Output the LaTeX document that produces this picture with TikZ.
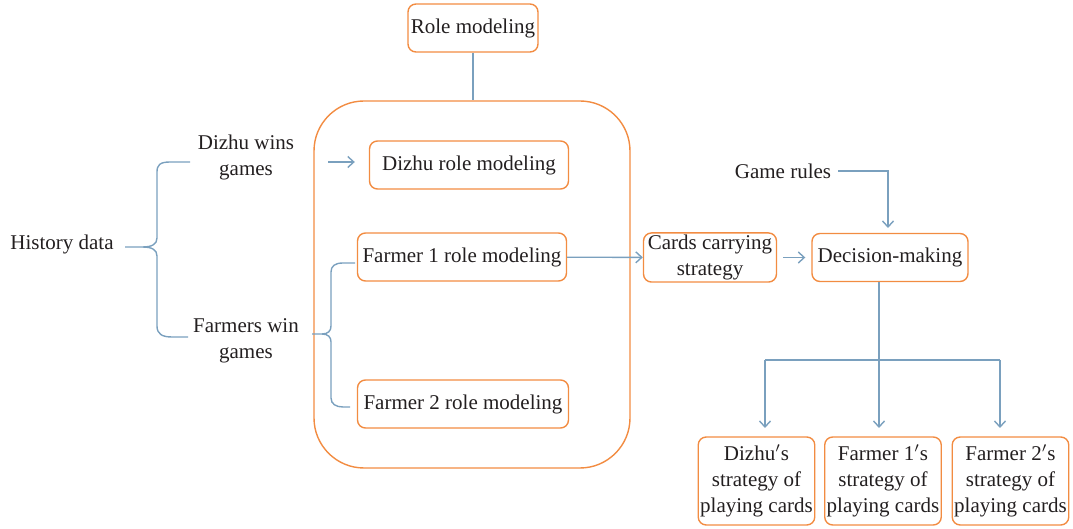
\documentclass[tikz,border=0pt]{standalone}
\usepackage{fontspec}
\setmainfont{Liberation Serif}
\usepackage{xcolor}
\usepackage{tikz}
\usetikzlibrary{shapes,arrows,arrows.meta,positioning,calc}

\definecolor{boxorange}{RGB}{242,140,66}
\definecolor{linkblue}{RGB}{122,160,190}
\definecolor{inkgray}{RGB}{35,31,32}

\begin{document}
\begin{tikzpicture}[
            x=0.5pt, y=-0.5pt,
            every node/.style={font=\fontsize{10.5}{13}\selectfont, text=inkgray, align=center},
            box/.style={draw=boxorange, line width=0.7pt, rounded corners=4pt, minimum height=24pt, inner sep=1pt},
            group/.style={draw=boxorange, line width=0.7pt, rounded corners=25pt},
            link/.style={draw=linkblue, line width=0.7pt},
            >={Straight Barb[length=3pt,width=5.5pt]},
        ]
            \useasboundingbox (0,0) rectangle (1073,529);

            % role modeling block
            \node[box, minimum width=65pt] (role) at (473,28) {Role modeling};
            \node[group, minimum width=158pt, minimum height=183.5pt] (roles) at (472,284.5) {};
            \node[box, minimum width=99.5pt] (dizhu) at (469,165) {Dizhu role modeling};
            \node[box, minimum width=104.5pt] (farmer1) at (462,257) {Farmer 1 role modeling};
            \node[box, minimum width=105.5pt] (farmer2) at (463,404) {Farmer 2 role modeling};
            \draw[link] (role) -- (role |- roles.north);

            % data side
            \node (history) at (62,244) {History data};
            \node (dwins) at (246,157) {Dizhu wins\\games};
            \node (fwins) at (246,341) {Farmers win\\games};
            \coordinate (hdtip) at (125,247);
            \draw[link] (hdtip) -- (143,247) .. controls (152,247) and (157,244) .. (157,238) -- (157,172)
                .. controls (157,165) and (160,162) .. (170,162) -- (190,162);
            \draw[link] (143,247) .. controls (152,247) and (157,250) .. (157,256) -- (157,326)
                .. controls (157,334) and (162,337) .. (172,337) -- (188,337);
            \draw[link] (312,334) -- (322,334) .. controls (328,334) and (331,331) .. (331,326) -- (331,272)
                .. controls (331,266) and (335,263) .. (343,263) -- (355,263);
            \draw[link] (322,334) .. controls (328,334) and (331,337) .. (331,342) -- (331,398)
                .. controls (331,404) and (336,407) .. (343,407) -- (350,407);
            \coordinate (dzin) at (328,162);
            \draw[link,->] (dzin) -- (dzin -| dizhu.west) [shorten >=7pt];

            % decision side
            \node[box, minimum width=66.5pt] (cards) at (710,257.5) {Cards carrying\\strategy};
            \node[box, minimum width=78pt] (decision) at (890,257.5) {Decision-making};
            \node (rules) at (783,171) {Game rules};
            \draw[link,->] (farmer1) -- (cards);
            \draw[link,->,shorten <=3pt,shorten >=3pt] (cards) -- (decision);
            \coordinate (ruledrop) at (888,233);
            \draw[link,->,shorten >=2.5pt] (rules.east) -| (ruledrop);

            % strategies
            \node[box, minimum width=57.5pt, minimum height=44pt] (dzstrat) at (756.5,481) {Dizhu$'$s\\strategy of\\playing cards};
            \node[box, minimum width=57.5pt, minimum height=44pt] (f1strat) at (883,481) {Farmer 1$'$s\\strategy of\\playing cards};
            \node[box, minimum width=57.5pt, minimum height=44pt] (f2strat) at (1010.5,481) {Farmer 2$'$s\\strategy of\\playing cards};
            \coordinate (split) at (879,360);
            \draw[link] (decision.south -| split) -- (split);
            \draw[link] (765,360) -- (1000,360);
            \foreach \b/\x in {dzstrat/765, f1strat/879, f2strat/1000}
                \draw[link,->,shorten >=4.5pt] (\x,360) -- (\x,437);
        \end{tikzpicture}
\end{document}
